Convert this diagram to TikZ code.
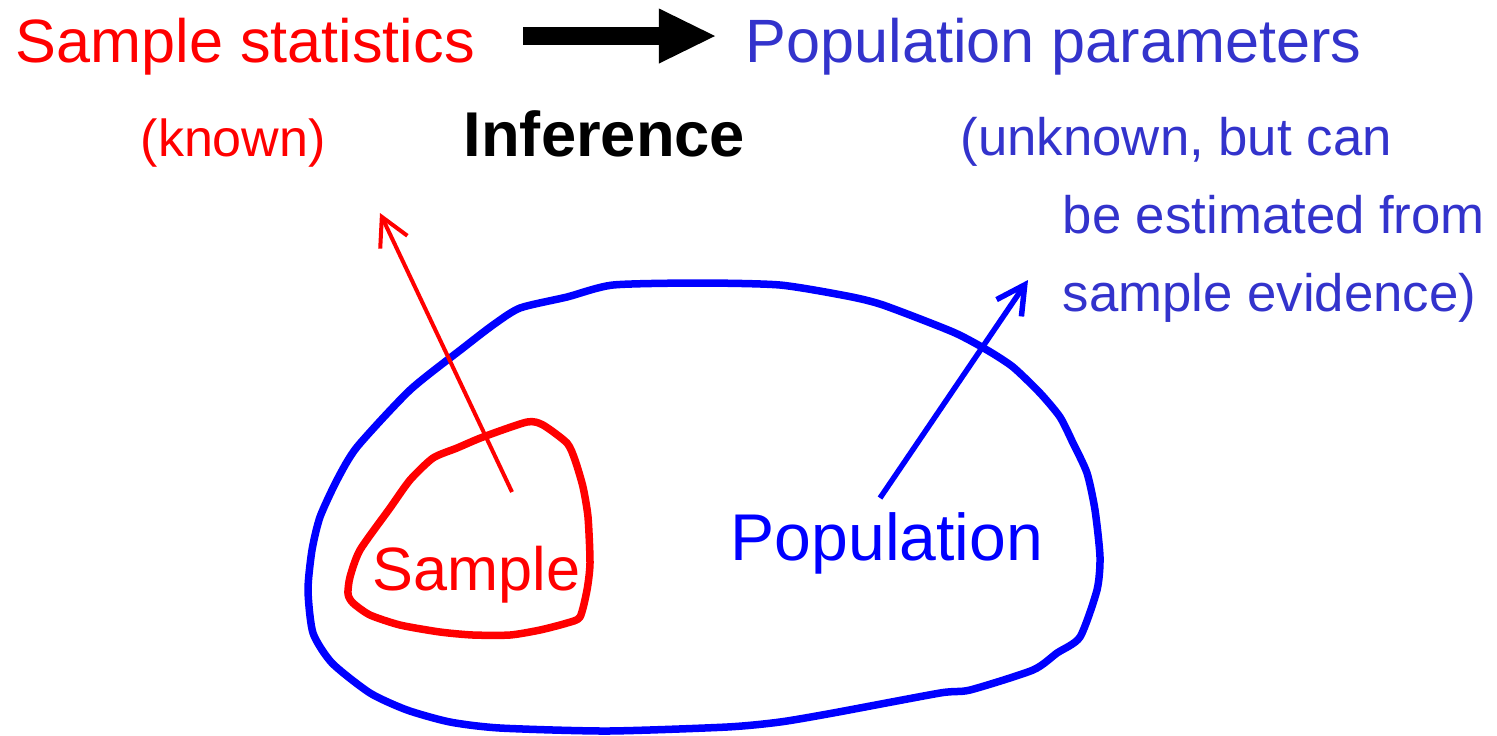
\documentclass[tikz,border=0pt]{standalone}
\usepackage{fontspec}
\setmainfont{Liberation Sans}
\usetikzlibrary{arrows.meta}
\definecolor{popblue}{RGB}{51,51,204}

\begin{document}
\begin{tikzpicture}[x=0.01cm,y=-0.01cm,
    txt/.style={anchor=base west,inner sep=0pt},
    big/.style={font=\fontsize{17.4}{20}\selectfont},
    small/.style={font=\fontsize{15}{18}\selectfont},
    blob/.style={line width=0.075cm,line join=round},
    barb/.style={-{Straight Barb[length=0.28cm,width=0.3cm]}}]
    \useasboundingbox (0,0) rectangle (1497,735);
    % top row
    \node[txt,big,red] (stats) at (15,62) {Sample statistics};
    \node[txt,big,popblue] (params) at (745,62) {Population parameters};
    \coordinate (inftail) at (523,36);
    \coordinate (infhead) at (715,36);
    \draw[line width=0.18cm,-{Triangle[length=0.56cm,width=0.55cm,line width=0pt]}] (inftail) -- (infhead);
    \node[txt,font=\fontsize{14.8}{18}\selectfont,red] (known) at (140,156) {(known)};
    \node[txt,font=\fontsize{18}{21}\selectfont\bfseries] (infer) at (463,156) {Inference};
    \node[txt,small,popblue] (unk1) at (960,155) {(unknown, but can};
    \node[txt,small,popblue] (unk2) at (1062,233) {be estimated from};
    \node[txt,small,popblue] (unk3) at (1062,311) {sample evidence)};
    % population
    \draw[blob,blue] plot[smooth cycle,tension=0.4] coordinates {
        (613,285) (700,283) (780,285) (847,296) (883,305) (953,332) (987,350)
        (1013,367) (1040,393) (1060,417) (1073,443) (1087,473) (1095,510)
        (1100,557) (1097,590) (1080,637) (1057,653) (1033,670) (970,690)
        (940,693) (833,713) (780,722) (727,727) (607,731) (500,728) (450,722)
        (407,710) (370,693) (332,663) (313,633) (308,590) (312,550) (320,517)
        (337,480) (357,447) (410,390) (463,348) (493,325) (520,308) (567,297)};
    \node[txt,font=\fontsize{18.8}{22}\selectfont,blue] (pop) at (730,560) {Population};
    % sample
    \draw[blob,red] plot[smooth cycle,tension=0.4] coordinates {
        (527,422) (543,425) (567,443) (575,460) (583,487) (588,517) (590,563)
        (587,590) (580,617) (567,623) (540,630) (510,635) (473,635) (440,632)
        (400,625) (370,615) (353,603) (348,594) (350,577) (360,550) (390,508)
        (410,480) (433,458) (457,448) (483,437)};
    \node[txt,big,red] (samp) at (372,590) {Sample};
    % pointers
    \coordinate (redfoot) at (512,492);
    \coordinate (redtip) at (380,213);
    \draw[barb,red,line width=0.04cm] (redfoot) -- (redtip);
    \coordinate (bluefoot) at (880,498);
    \coordinate (bluetip) at (1028,280);
    \draw[barb,blue,line width=0.055cm] (bluefoot) -- (bluetip);
\end{tikzpicture}
\end{document}
